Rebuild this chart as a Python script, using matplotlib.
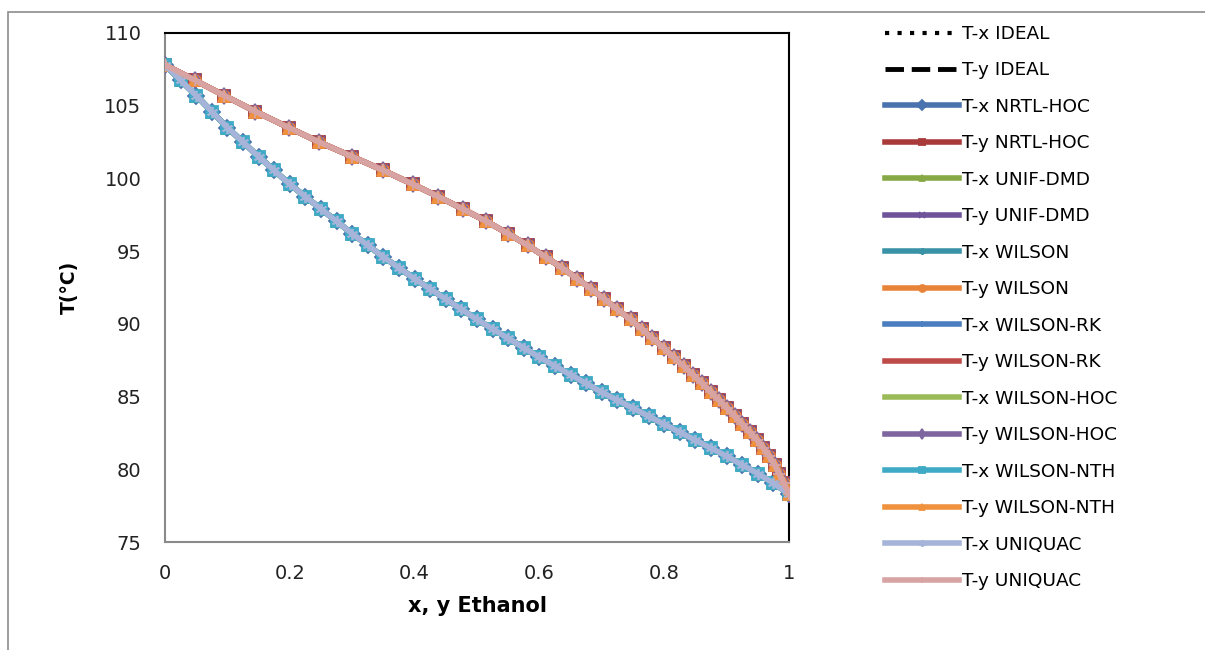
import matplotlib
matplotlib.use('Agg')
import matplotlib.pyplot as plt
from matplotlib.patches import Rectangle

plt.rcParams['font.family'] = ['DejaVu Sans']

# liquid composition grid (ethanol mole fraction)
x_liq = [0.000, 0.025, 0.050, 0.075, 0.100, 0.125, 0.150, 0.175, 0.200, 0.225,
         0.250, 0.275, 0.300, 0.325, 0.350, 0.375, 0.400, 0.425, 0.450, 0.475,
         0.500, 0.525, 0.550, 0.575, 0.600, 0.625, 0.650, 0.675, 0.700, 0.725,
         0.750, 0.775, 0.800, 0.825, 0.850, 0.875, 0.900, 0.925, 0.950, 0.975,
         1.000]

# equilibrium vapour composition for each liquid point
y_vap = [0.000, 0.048, 0.095, 0.145, 0.198, 0.247, 0.300, 0.350, 0.397, 0.438,
         0.477, 0.515, 0.550, 0.581, 0.610, 0.636, 0.661, 0.683, 0.704, 0.725,
         0.746, 0.764, 0.781, 0.799, 0.815, 0.831, 0.846, 0.861, 0.875, 0.888,
         0.901, 0.913, 0.925, 0.937, 0.949, 0.959, 0.968, 0.977, 0.984, 0.9915,
         1.000]

# bubble temperature (°C)
T_bub = [107.8, 106.75, 105.7, 104.6, 103.5, 102.5, 101.5, 100.55, 99.6, 98.75,
         97.9, 97.05, 96.2, 95.4, 94.6, 93.85, 93.1, 92.4, 91.7, 91.0,
         90.3, 89.65, 89.0, 88.35, 87.7, 87.1, 86.5, 85.9, 85.3, 84.75,
         84.2, 83.65, 83.1, 82.55, 82.0, 81.45, 80.9, 80.3, 79.7, 79.05,
         78.3]

models = ['IDEAL', 'NRTL-HOC', 'UNIF-DMD', 'WILSON', 'WILSON-RK',
          'WILSON-HOC', 'WILSON-NTH', 'UNIQUAC']

# (T-x colour, marker), (T-y colour, marker) for each model
styles = {
    'IDEAL':      (('black', None), ('black', None)),
    'NRTL-HOC':   (('#4a72ae', 'D'), ('#a83a3a', 's')),
    'UNIF-DMD':   (('#86a845', '^'), ('#6e539a', 'x')),
    'WILSON':     (('#3a92a6', (6, 2, 0)), ('#e8843a', 'o')),
    'WILSON-RK':  (('#4a7ec0', '+'), ('#be4b48', None)),
    'WILSON-HOC': (('#9bbb59', None), ('#7f65a0', 'd')),
    'WILSON-NTH': (('#3eaac6', 's'), ('#f0913e', '^')),
    'UNIQUAC':    (('#a5b4d8', (6, 2, 0)), ('#d8a3a3', '+')),
}

fig = plt.figure(figsize=(12.05, 6.5), dpi=100)

# outer chart-area frame
fig.add_artist(Rectangle((8 / 1205, -0.2), 2, 1.2 - 12 / 650,
                         transform=fig.transFigure, fill=False,
                         edgecolor='#8c8c8c', lw=1.2))

ax = fig.add_axes([165 / 1205, 1 - 542 / 650, 624 / 1205, 509 / 650])

for i, name in enumerate(models):
    (cx, mx), (cy, my) = styles[name]
    if name == 'IDEAL':
        ax.plot(x_liq, T_bub, color=cx, ls=(0, (1, 2)), lw=3,
                label='T-x ' + name, zorder=2)
        ax.plot(y_vap, T_bub, color=cy, ls=(0, (3.8, 1.6)), lw=3.5,
                label='T-y ' + name, zorder=2)
        continue
    ms = 8
    ax.plot(x_liq, T_bub, color=cx, lw=4, marker=mx, ms=ms,
            mec=cx, mfc=cx, mew=1.3, label='T-x ' + name, zorder=3 + 2 * i)
    ax.plot(y_vap, T_bub, color=cy, lw=4, marker=my, ms=ms,
            mec=cy, mfc=cy, mew=1.3, label='T-y ' + name, zorder=4 + 2 * i)

ax.set_xlim(0, 1)
ax.set_ylim(75, 110)
ax.set_xticks([0, 0.2, 0.4, 0.6, 0.8, 1])
ax.set_xticklabels(['0', '0.2', '0.4', '0.6', '0.8', '1'])
ax.set_yticks(range(75, 111, 5))
ax.tick_params(length=0, labelsize=14, colors='#222222')
ax.tick_params(axis='y', pad=17)
ax.tick_params(axis='x', pad=16)

for side in ['left', 'bottom']:
    ax.spines[side].set_color('#8a8a8a')
    ax.spines[side].set_linewidth(1.5)
for side in ['top', 'right']:
    ax.spines[side].set_color('black')
    ax.spines[side].set_linewidth(1.5)

ax.set_xlabel('x, y Ethanol', fontsize=15, fontweight='bold', labelpad=9)
ax.set_ylabel('T(°C)', fontsize=13.5, fontweight='bold', labelpad=18)

leg = ax.legend(loc='upper left', bbox_to_anchor=(885 / 1205, 1 - 25 / 650),
                bbox_transform=fig.transFigure, frameon=False, fontsize=13.3,
                handlelength=4.0, handletextpad=0.15, labelspacing=1.0,
                borderpad=0, borderaxespad=0, numpoints=1)
for h in leg.get_lines():
    h.set_markersize(5)

fig.savefig('out.png', dpi=100)
